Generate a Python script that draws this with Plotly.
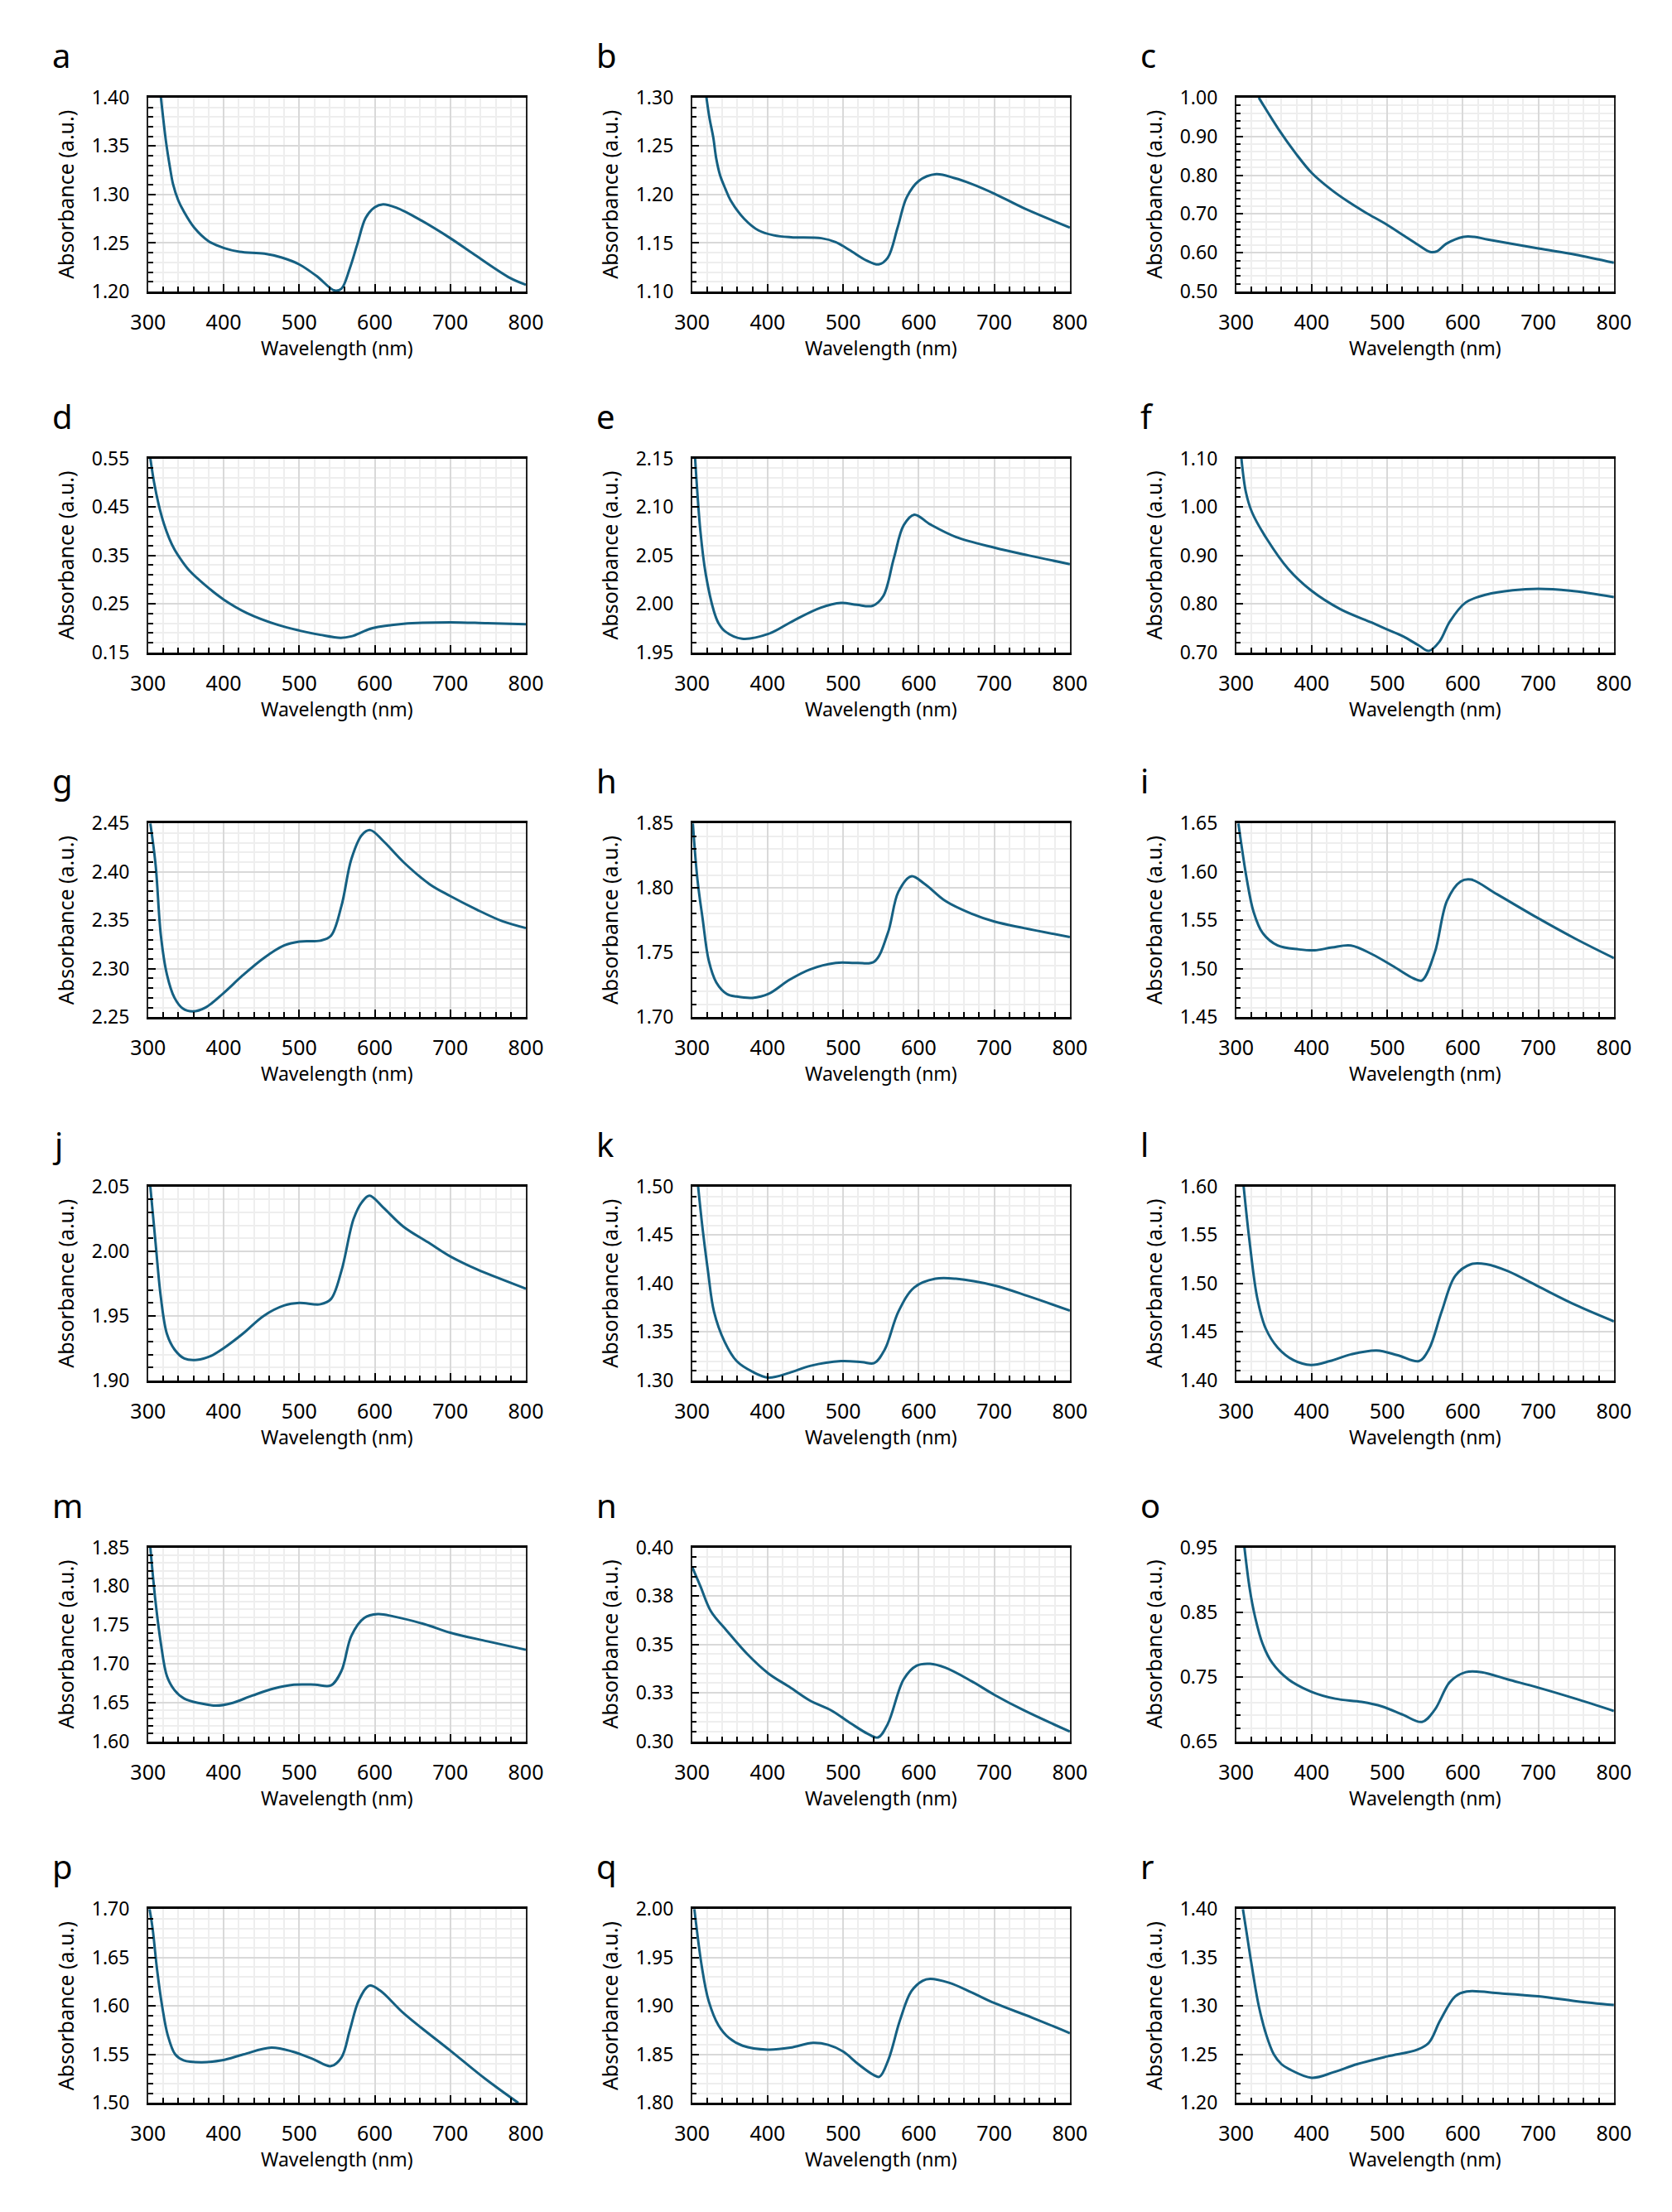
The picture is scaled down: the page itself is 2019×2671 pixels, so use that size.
import plotly.graph_objects as go

# ---------------- data ----------------
panel_labels = ["a", "b", "c", "d", "e", "f", "g", "h", "i",
                "j", "k", "l", "m", "n", "o", "p", "q", "r"]

wl_a = [317, 324, 329, 333, 340, 347, 361, 380, 400, 421, 454, 477, 500, 523, 547, 556, 567, 577, 588, 600, 611, 630, 653, 700, 732, 779, 800]
ab_a = [1.400, 1.353, 1.328, 1.311, 1.294, 1.283, 1.266, 1.252, 1.245, 1.241, 1.239, 1.235, 1.228, 1.216, 1.201, 1.203, 1.224, 1.249, 1.276, 1.287, 1.290, 1.286, 1.277, 1.255, 1.238, 1.214, 1.207]

wl_b = [319, 323, 328, 332, 337, 344, 351, 369, 388, 408, 431, 471, 490, 508, 531, 547, 559, 572, 584, 600, 623, 647, 670, 700, 739, 800]
ab_b = [1.300, 1.279, 1.259, 1.237, 1.220, 1.206, 1.194, 1.175, 1.163, 1.158, 1.156, 1.155, 1.151, 1.143, 1.132, 1.128, 1.135, 1.166, 1.197, 1.214, 1.221, 1.217, 1.211, 1.201, 1.186, 1.166]

wl_c = [330, 356, 379, 400, 425, 448, 471, 499, 522, 541, 557, 566, 578, 601, 615, 633, 700, 749, 800]
ab_c = [1.000, 0.919, 0.856, 0.806, 0.764, 0.732, 0.704, 0.673, 0.644, 0.620, 0.602, 0.604, 0.623, 0.641, 0.641, 0.634, 0.611, 0.595, 0.574]

wl_d = [303, 308, 314, 321, 328, 335, 345, 355, 376, 400, 431, 473, 500, 528, 555, 569, 597, 638, 700, 749, 800]
ab_d = [0.550, 0.500, 0.455, 0.415, 0.385, 0.362, 0.338, 0.318, 0.288, 0.259, 0.231, 0.206, 0.195, 0.186, 0.180, 0.183, 0.200, 0.209, 0.212, 0.210, 0.208]

wl_e = [304, 311, 318, 329, 335, 343, 366, 401, 435, 470, 497, 518, 539, 553, 567, 580, 594, 615, 649, 700, 745, 800]
ab_e = [2.150, 2.075, 2.031, 1.992, 1.980, 1.972, 1.964, 1.969, 1.983, 1.996, 2.001, 1.999, 1.998, 2.008, 2.047, 2.081, 2.092, 2.082, 2.069, 2.058, 2.050, 2.041]

wl_f = [307, 313, 321, 341, 369, 399, 438, 480, 500, 521, 542, 555, 569, 583, 604, 631, 666, 700, 742, 800]
ab_f = [1.100, 1.030, 0.989, 0.933, 0.872, 0.828, 0.789, 0.761, 0.747, 0.733, 0.714, 0.703, 0.722, 0.764, 0.803, 0.819, 0.828, 0.831, 0.827, 0.814]

wl_g = [303, 310, 317, 325, 335, 346, 359, 376, 400, 425, 453, 480, 500, 528, 542, 556, 569, 583, 594, 611, 638, 673, 700, 735, 769, 800]
ab_g = [2.450, 2.407, 2.334, 2.294, 2.270, 2.259, 2.256, 2.260, 2.275, 2.293, 2.311, 2.324, 2.328, 2.329, 2.334, 2.365, 2.413, 2.438, 2.443, 2.432, 2.410, 2.387, 2.375, 2.361, 2.349, 2.342]

wl_h = [301, 307, 314, 322, 332, 346, 359, 380, 401, 429, 456, 490, 518, 541, 559, 573, 590, 608, 635, 670, 700, 739, 800]
ab_h = [1.850, 1.807, 1.776, 1.744, 1.727, 1.718, 1.716, 1.715, 1.718, 1.729, 1.737, 1.742, 1.742, 1.743, 1.765, 1.797, 1.809, 1.803, 1.790, 1.780, 1.774, 1.769, 1.762]

wl_i = [303, 314, 323, 335, 355, 383, 404, 427, 452, 480, 507, 535, 546, 563, 579, 597, 611, 645, 700, 749, 800]
ab_i = [1.650, 1.593, 1.559, 1.537, 1.524, 1.520, 1.519, 1.522, 1.524, 1.515, 1.503, 1.490, 1.488, 1.517, 1.570, 1.590, 1.592, 1.577, 1.552, 1.531, 1.511]

wl_j = [303, 310, 317, 325, 335, 348, 365, 383, 400, 425, 453, 480, 500, 528, 542, 556, 572, 583, 593, 611, 638, 673, 700, 735, 769, 800]
ab_j = [2.050, 2.006, 1.964, 1.936, 1.924, 1.917, 1.916, 1.919, 1.925, 1.936, 1.950, 1.958, 1.960, 1.959, 1.963, 1.985, 2.025, 2.038, 2.043, 2.034, 2.019, 2.006, 1.996, 1.986, 1.978, 1.971]

wl_k = [308, 314, 321, 329, 343, 359, 380, 401, 429, 456, 497, 525, 541, 555, 573, 594, 622, 649, 700, 745, 800]
ab_k = [1.500, 1.456, 1.413, 1.371, 1.340, 1.320, 1.309, 1.303, 1.308, 1.315, 1.320, 1.319, 1.318, 1.332, 1.371, 1.396, 1.405, 1.405, 1.398, 1.387, 1.372]

wl_l = [310, 318, 328, 339, 355, 376, 399, 424, 452, 486, 514, 542, 555, 572, 590, 611, 631, 659, 700, 749, 800]
ab_l = [1.600, 1.542, 1.485, 1.454, 1.434, 1.421, 1.416, 1.420, 1.427, 1.431, 1.426, 1.420, 1.432, 1.471, 1.508, 1.520, 1.520, 1.513, 1.497, 1.478, 1.461]

wl_m = [303, 310, 317, 325, 335, 348, 369, 390, 410, 438, 466, 493, 521, 542, 556, 569, 586, 604, 625, 666, 700, 749, 800]
ab_m = [1.850, 1.779, 1.726, 1.684, 1.666, 1.655, 1.649, 1.646, 1.649, 1.659, 1.668, 1.673, 1.673, 1.672, 1.691, 1.736, 1.759, 1.764, 1.761, 1.751, 1.740, 1.729, 1.718]

wl_n = [300, 311, 325, 346, 373, 401, 429, 456, 484, 511, 532, 546, 559, 580, 597, 615, 635, 670, 700, 739, 800]
ab_n = [0.390, 0.380, 0.367, 0.357, 0.345, 0.335, 0.328, 0.321, 0.316, 0.309, 0.304, 0.302, 0.309, 0.332, 0.339, 0.340, 0.338, 0.331, 0.324, 0.316, 0.305]

wl_o = [311, 318, 325, 335, 348, 369, 399, 431, 466, 493, 521, 546, 563, 583, 604, 625, 659, 700, 749, 800]
ab_o = [0.950, 0.886, 0.843, 0.801, 0.771, 0.746, 0.727, 0.716, 0.711, 0.704, 0.691, 0.680, 0.699, 0.742, 0.757, 0.757, 0.746, 0.733, 0.716, 0.697]

wl_p = [302, 306, 312, 319, 326, 336, 347, 370, 398, 426, 463, 491, 519, 542, 556, 567, 579, 593, 607, 639, 700, 746, 790]
ab_p = [1.700, 1.680, 1.637, 1.598, 1.570, 1.550, 1.544, 1.542, 1.544, 1.550, 1.557, 1.553, 1.545, 1.538, 1.547, 1.575, 1.606, 1.621, 1.616, 1.592, 1.554, 1.525, 1.500]

wl_q = [303, 313, 322, 335, 349, 367, 400, 430, 460, 480, 500, 520, 540, 548, 560, 575, 590, 605, 615, 640, 670, 700, 750, 800]
ab_q = [2.000, 1.940, 1.905, 1.880, 1.867, 1.859, 1.855, 1.857, 1.862, 1.860, 1.853, 1.840, 1.829, 1.827, 1.845, 1.885, 1.915, 1.926, 1.928, 1.924, 1.914, 1.903, 1.888, 1.872]

wl_r = [309, 315, 320, 330, 340, 350, 360, 370, 400, 430, 460, 500, 540, 555, 570, 590, 605, 650, 700, 750, 800]
ab_r = [1.400, 1.370, 1.345, 1.300, 1.270, 1.250, 1.240, 1.235, 1.226, 1.232, 1.240, 1.248, 1.255, 1.262, 1.285, 1.310, 1.315, 1.313, 1.310, 1.305, 1.301]

# y-axis ranges and major tick steps
y_min = [1.20, 1.10, 0.50, 0.15, 1.95, 0.70, 2.25, 1.70, 1.45,
         1.90, 1.30, 1.40, 1.60, 0.30, 0.65, 1.50, 1.80, 1.20]
y_max = [1.40, 1.30, 1.00, 0.55, 2.15, 1.10, 2.45, 1.85, 1.65,
         2.05, 1.50, 1.60, 1.85, 0.40, 0.95, 1.70, 2.00, 1.40]
y_step = [0.05, 0.05, 0.10, 0.10, 0.05, 0.10, 0.05, 0.05, 0.05,
          0.05, 0.05, 0.05, 0.05, 0.025, 0.10, 0.05, 0.05, 0.05]

# panel n uses Excel-style rounded labels
n_tickvals = [0.300, 0.325, 0.350, 0.375, 0.400]
n_ticktext = ["0.30", "0.33", "0.35", "0.38", "0.40"]

x_tickvals = [300, 400, 500, 600, 700, 800]

series = [(wl_a, ab_a), (wl_b, ab_b), (wl_c, ab_c), (wl_d, ab_d), (wl_e, ab_e), (wl_f, ab_f),
          (wl_g, ab_g), (wl_h, ab_h), (wl_i, ab_i), (wl_j, ab_j), (wl_k, ab_k), (wl_l, ab_l),
          (wl_m, ab_m), (wl_n, ab_n), (wl_o, ab_o), (wl_p, ab_p), (wl_q, ab_q), (wl_r, ab_r)]

# ---------------- layout geometry (page pixels) ----------------
PAGE_W, PAGE_H = 2019, 2671
OFF = 8                      # default body margin of the html page
W, H = PAGE_W - 2 * OFF, PAGE_H - 2 * OFF
col_left = [161, 832, 1503]
plot_w = 466
row_top = [102, 543, 989, 1433, 1874, 2316]
plot_h = 237

def px(v):
    return (v - OFF) / W

def py(v):
    return 1 - (v - OFF) / H

LINE_COLOR = "#156082"
FONT = "Noto Sans"

fig = go.Figure()
annotations = []

for k in range(18):
    r, c = divmod(k, 3)
    x0, x1 = px(col_left[c]), px(col_left[c] + plot_w)
    ytop, ybot = py(row_top[r]), py(row_top[r] + plot_h)
    xa = "xaxis" if k == 0 else f"xaxis{k+1}"
    ya = "yaxis" if k == 0 else f"yaxis{k+1}"
    xref = "x" if k == 0 else f"x{k+1}"
    yref = "y" if k == 0 else f"y{k+1}"

    wl, ab = series[k]
    fig.add_trace(go.Scatter(x=wl, y=ab, mode="lines",
                             line=dict(color=LINE_COLOR, width=3, shape="spline", smoothing=1.0),
                             xaxis=xref, yaxis=yref, showlegend=False, hoverinfo="skip"))

    fig.layout[xa] = dict(
        domain=[x0, x1], anchor=yref, range=[300, 800],
        tickmode="array", tickvals=x_tickvals,
        ticks="inside", ticklen=9, tickwidth=2, tickcolor="black",
        showline=True, linecolor="black", linewidth=3, mirror=True,
        showgrid=True, gridcolor="#d9d9d9", gridwidth=1.5,
        zeroline=False, fixedrange=True,
        tickfont=dict(family=FONT, size=25, color="black"),
        ticklabelstandoff=13,
        minor=dict(tickmode="linear", tick0=300, dtick=20, ticks="inside", ticklen=6,
                   tickwidth=2, tickcolor="black", showgrid=True,
                   gridcolor="#eeeeee", gridwidth=1.5),
    )
    step = y_step[k]
    if k == 13:
        ytick = dict(tickmode="array", tickvals=n_tickvals, ticktext=n_ticktext)
        minor_dt = 0.005
    else:
        ytick = dict(tickmode="linear", tick0=y_min[k], dtick=step, tickformat=".2f")
        minor_dt = step / 5
    fig.layout[ya] = dict(
        domain=[ybot, ytop], anchor=xref, range=[y_min[k], y_max[k]],
        ticks="inside", ticklen=9, tickwidth=2, tickcolor="black",
        showline=True, linecolor="#222222", linewidth=1.5, mirror=True,
        showgrid=True, gridcolor="#d9d9d9", gridwidth=1.5,
        zeroline=False, fixedrange=True,
        tickfont=dict(family=FONT, size=23, color="black"),
        ticklabelstandoff=16,
        minor=dict(tickmode="linear", tick0=y_min[k], dtick=minor_dt, ticks="inside", ticklen=6,
                   tickwidth=2, tickcolor="black", showgrid=True,
                   gridcolor="#eeeeee", gridwidth=1.5),
        **ytick,
    )

    # panel letter
    annotations.append(dict(text=panel_labels[k], xref="paper", yref="paper",
                            x=px(col_left[c] - 120), y=py(row_top[r] - 52),
                            xanchor="left", yanchor="middle", showarrow=False,
                            font=dict(family=FONT, size=40, color="black")))
    # x title
    annotations.append(dict(text="Wavelength (nm)", xref="paper", yref="paper",
                            x=px(col_left[c] + plot_w / 2), y=py(row_top[r] + plot_h + 69),
                            xanchor="center", yanchor="middle", showarrow=False,
                            font=dict(family=FONT, size=23, color="black")))
    # y title
    annotations.append(dict(text="Absorbance (a.u.)", xref="paper", yref="paper",
                            x=px(col_left[c] - 102), y=py(row_top[r] + plot_h / 2),
                            xanchor="center", yanchor="middle", showarrow=False, textangle=-90,
                            font=dict(family=FONT, size=25, color="black")))

fig.update_layout(width=W, height=H, margin=dict(l=0, r=0, t=0, b=0),
                  paper_bgcolor="white", plot_bgcolor="white",
                  annotations=annotations)

fig.write_html("out.html")
